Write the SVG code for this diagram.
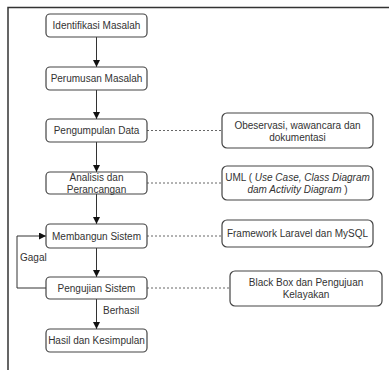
<svg xmlns="http://www.w3.org/2000/svg" width="389" height="370" viewBox="0 0 389 370">
<defs>
<style>
.box{fill:#fff;stroke:#444;stroke-width:1.2}
.t{font-family:"Liberation Sans",Arial,sans-serif;font-size:10px;fill:#333;text-anchor:middle}
.l{font-family:"Liberation Sans",Arial,sans-serif;font-size:10px;fill:#333}
.e{fill:none;stroke:#333;stroke-width:1}
.d{fill:none;stroke:#666;stroke-width:1;stroke-dasharray:2,2}
</style>
<marker id="ah" viewBox="0 0 10 10" refX="10" refY="5" markerWidth="7" markerHeight="7" orient="auto" markerUnits="userSpaceOnUse">
<path d="M0,0 L10,5 L0,10 Z" fill="#111"/>
</marker>
</defs>
<rect width="389" height="370" fill="#fff"/>
<path d="M8,370 V7.5 H389" fill="none" stroke="#333" stroke-width="1.5"/>
<g id="connectors">
<path class="e" d="M96.5,37 V67" marker-end="url(#ah)"/>
<path class="e" d="M96.5,90 V119" marker-end="url(#ah)"/>
<path class="e" d="M96.5,142 V172" marker-end="url(#ah)"/>
<path class="e" d="M96.5,194 V224" marker-end="url(#ah)"/>
<path class="e" d="M96.5,248 V277" marker-end="url(#ah)"/>
<path class="e" d="M96.5,299 V329" marker-end="url(#ah)"/>
<path class="e" d="M46,288 H17 V236 H46" marker-end="url(#ah)"/>
<path class="d" d="M147,130.5 H222"/>
<path class="d" d="M147,183 H222"/>
<path class="d" d="M147,236 H222"/>
<path class="d" d="M147,288 H230"/>
<text class="l" x="20" y="260.5">Gagal</text>
<text class="l" x="103" y="313.5">Berhasil</text>
</g>
<g id="n1"><rect class="box" x="46" y="14" width="101" height="23" rx="4"/><text class="t" x="96.5" y="29">Identifikasi Masalah</text></g>
<g id="n2"><rect class="box" x="46" y="67" width="101" height="23" rx="4"/><text class="t" x="96.5" y="82">Perumusan Masalah</text></g>
<g id="n3"><rect class="box" x="46" y="119" width="101" height="23" rx="4"/><text class="t" x="96.5" y="134">Pengumpulan Data</text></g>
<g id="n4"><rect class="box" x="46" y="172" width="101" height="22" rx="4"/><text class="t" x="96.5" y="180.5">Analisis dan</text><text class="t" x="96.5" y="192.5">Perancangan</text></g>
<g id="n5"><rect class="box" x="46" y="224" width="101" height="24" rx="4"/><text class="t" x="96.5" y="239.5">Membangun Sistem</text></g>
<g id="n6"><rect class="box" x="46" y="277" width="101" height="22" rx="4"/><text class="t" x="96.5" y="291.5">Pengujian Sistem</text></g>
<g id="n7"><rect class="box" x="46" y="329" width="101" height="23" rx="4"/><text class="t" x="96.5" y="344">Hasil dan Kesimpulan</text></g>
<g id="r1"><rect class="box" x="222" y="113" width="151" height="35" rx="5"/><text class="t" x="297.5" y="128.5">Obeservasi, wawancara dan</text><text class="t" x="297.5" y="141">dokumentasi</text></g>
<g id="r2"><rect class="box" x="222" y="166" width="151" height="34" rx="5"/><text class="t" x="297.5" y="180.5">UML ( <tspan font-style="italic">Use Case, Class Diagram</tspan></text><text class="t" x="297.5" y="193"><tspan font-style="italic">dam Activity Diagram</tspan> )</text></g>
<g id="r3"><rect class="box" x="222" y="220" width="151" height="27" rx="5"/><text class="t" x="297.5" y="237">Framework Laravel dan MySQL</text></g>
<g id="r4"><rect class="box" x="230" y="271" width="152" height="35" rx="5"/><text class="t" x="306" y="285.5">Black Box dan Pengujuan</text><text class="t" x="306" y="297.5">Kelayakan</text></g>
</svg>
